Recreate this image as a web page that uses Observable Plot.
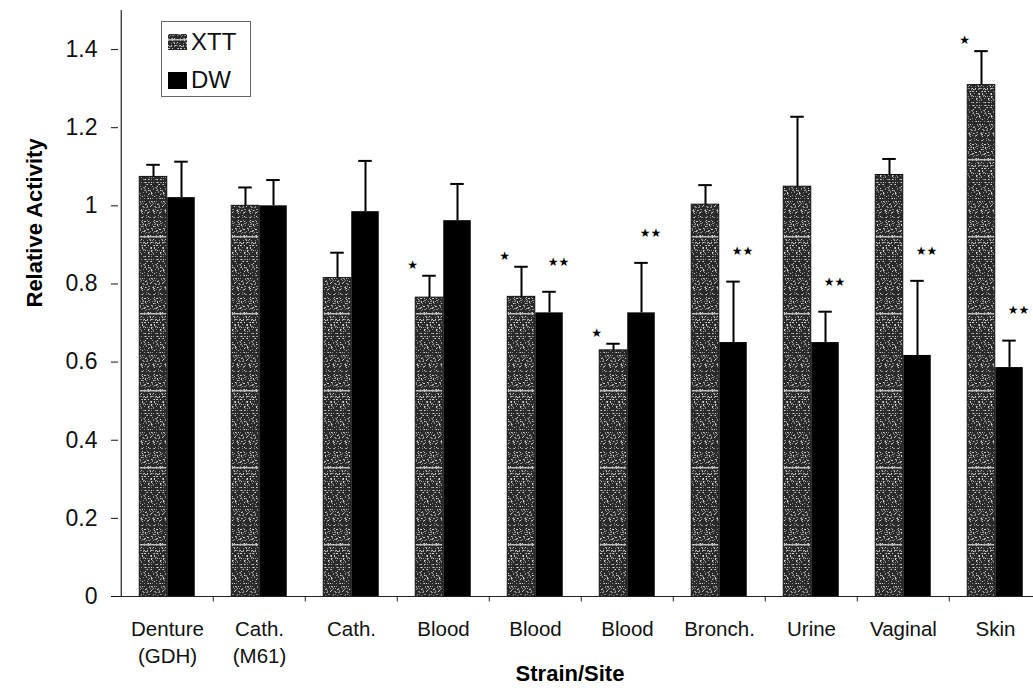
<!DOCTYPE html>
<html><head><meta charset="utf-8">
<script src="https://cdn.jsdelivr.net/npm/d3@7"></script>
<script src="https://cdn.jsdelivr.net/npm/@observablehq/plot@0.6"></script>
<style>
body{margin:0;background:#fff;overflow:hidden}
#wrap{position:relative;width:1033px;height:692px}
#legend{position:absolute;left:161px;top:21px;width:88px;height:74px;border:1px solid #666;background:#fff;font-family:"Liberation Sans",Arial,sans-serif;font-size:24px;color:#111}
#legend .row{position:absolute;left:6px;height:20px;display:flex;align-items:center}
#legend svg{margin-right:4px}
</style></head>
<body>
<svg width="0" height="0" style="position:absolute"><defs id="defs"></defs></svg>
<div id="wrap"><div id="chart"></div>
<div id="legend">
 <div class="row" style="top:10px"><svg width="19" height="16"><rect width="19" height="16" fill="url(#xttPat)"/></svg>XTT</div>
 <div class="row" style="top:48px"><svg width="19" height="17"><rect width="19" height="17" fill="#000"/></svg>DW</div>
</div></div>
<script>
// ---- data ----
const siteLabels = ["Denture\n(GDH)", "Cath.\n(M61)", "Cath.", "Blood", "Blood", "Blood", "Bronch.", "Urine", "Vaginal", "Skin"];
const xttMean = [1.074, 1.0, 0.815, 0.765, 0.767, 0.63, 1.003, 1.049, 1.079, 1.309];
const xttSD   = [0.031, 0.047, 0.065, 0.056, 0.077, 0.017, 0.05, 0.179, 0.041, 0.087];
const dwMean  = [1.021, 1.0, 0.985, 0.962, 0.726, 0.726, 0.65, 0.65, 0.617, 0.586];
const dwSD    = [0.092, 0.066, 0.13, 0.094, 0.054, 0.128, 0.156, 0.079, 0.191, 0.069];
const xttSig  = ["", "", "", "★", "★", "★", "", "", "", "★"];
const dwSig   = ["", "", "", "", "★★", "★★", "★★", "★★", "★★", "★★"];
const yTicks  = [0, 0.2, 0.4, 0.6, 0.8, 1.0, 1.2, 1.4];

// ---- texture for XTT bars ----
const defs = d3.select("#defs");
const pat = defs.append("pattern").attr("id", "xttPat").attr("patternUnits", "userSpaceOnUse")
  .attr("width", 12).attr("height", 77);
pat.append("rect").attr("width", 12).attr("height", 77).attr("fill", "#2a2a2a");
for (let k = 0; k < 230; k++) {
  const x = (k * 7 + ((k * k) % 5)) % 12;
  const y = (k * k * 13 + k * 31 + (k >> 2)) % 77;
  pat.append("rect").attr("x", x).attr("y", y)
    .attr("width", 1).attr("height", 1).attr("fill", k % 3 ? "#8c8c8c" : "#cfcfcf");
}
pat.append("rect").attr("x", 0).attr("y", 5).attr("width", 12).attr("height", 1.5).attr("fill", "#dcdcdc").attr("opacity", 0.8);

const idx = siteLabels.map((_, i) => i);
const bw = 92.5, half = bw / 2;

const chart = Plot.plot({
  width: 1033, height: 692,
  marginLeft: 118, marginRight: 0, marginTop: 10, marginBottom: 96,
  style: {fontFamily: "'Liberation Sans', Arial, sans-serif", background: "#fff", color: "#111"},
  x: {type: "band", domain: idx, range: [118, 1043], padding: 0, axis: null},
  y: {domain: [0, 1.5], axis: null},
  marks: [
    Plot.barY(idx, {x: i => i, y: i => xttMean[i], fill: "url(#xttPat)", stroke: "#111", strokeWidth: 1, insetLeft: 18.25, insetRight: 46.25}),
    Plot.barY(idx, {x: i => i, y: i => dwMean[i], fill: "#000", insetLeft: 46.25, insetRight: 18.25}),
    Plot.ruleX(idx, {x: i => i, y1: i => xttMean[i], y2: i => xttMean[i] + xttSD[i], dx: -14, strokeWidth: 2, stroke: "#000"}),
    Plot.tickY(idx, {x: i => i, y: i => xttMean[i] + xttSD[i], insetLeft: 25.25, insetRight: 53.25, strokeWidth: 2, stroke: "#000"}),
    Plot.ruleX(idx, {x: i => i, y1: i => dwMean[i], y2: i => dwMean[i] + dwSD[i], dx: 14, strokeWidth: 2, stroke: "#000"}),
    Plot.tickY(idx, {x: i => i, y: i => dwMean[i] + dwSD[i], insetLeft: 53.25, insetRight: 25.25, strokeWidth: 2, stroke: "#000"}),
    Plot.text(idx.filter(i => xttSig[i]), {x: i => i, y: i => xttMean[i] + xttSD[i], text: i => xttSig[i], dx: -31, dy: -11, fontSize: 12, fontFamily: "DejaVu Sans", fill: "#000"}),
    Plot.text(idx.filter(i => dwSig[i]), {x: i => i, y: i => dwMean[i] + dwSD[i], text: i => dwSig[i], dx: 23, dy: -30, fontSize: 12, fontFamily: "DejaVu Sans", fill: "#000"}),
    // axes lines
    Plot.ruleY([0], {stroke: "#222", strokeWidth: 1.2}),
    Plot.ruleX([0], {y1: 0, y2: 1.5, dx: -half, stroke: "#222", strokeWidth: 1.2}),
    Plot.ruleX(idx.slice(1), {x: i => i, y1: 0, y2: -0.014, dx: -half, stroke: "#222"}),
    Plot.axisY({ticks: yTicks, tickFormat: d => String(+d.toFixed(1)), tickSize: 7, tickPadding: 14, fontSize: 23, label: null}),
    Plot.axisX({tickFormat: i => siteLabels[i], tickSize: 0, tickPadding: 21, fontSize: 20.5, lineHeight: 1.3, label: null}),
    Plot.text(["Relative Activity"], {frameAnchor: "left", rotate: -90, dx: -84, dy: 4, fontSize: 22, fontWeight: "bold", fill: "#000"}),
    Plot.text(["Strain/Site"], {frameAnchor: "bottom", dx: -6, dy: 84, fontSize: 22, fontWeight: "bold", fill: "#000"})
  ]
});
document.getElementById("chart").appendChild(chart);
</script>
</body></html>
